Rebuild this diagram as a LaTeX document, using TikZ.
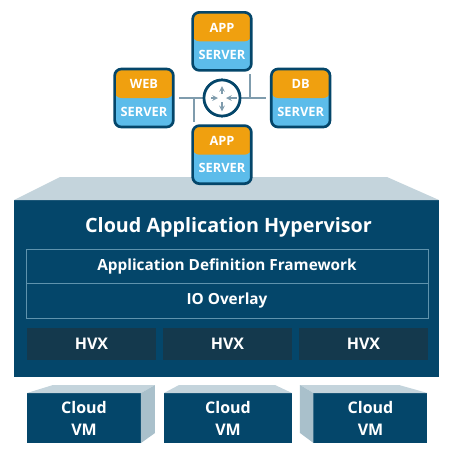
\documentclass[tikz,border=0pt]{standalone}
\usepackage{fontspec}
\setmainfont{Open Sans}
\usepackage{xcolor}
\usetikzlibrary{arrows, positioning, calc}
\definecolor{navy}{HTML}{04466A}
\definecolor{hvxdark}{HTML}{14394D}
\definecolor{lidtop}{HTML}{C4D4DC}
\definecolor{lidside}{HTML}{A9C0CB}
\definecolor{framewire}{HTML}{5F93AD}
\definecolor{srvorange}{HTML}{F0A00F}
\definecolor{srvblue}{HTML}{5CBCEA}
\definecolor{linkgray}{HTML}{7F9CAD}
\tikzstyle{server} = [rectangle, rounded corners=5pt, minimum width=44pt, minimum height=43.5pt, inner sep=0pt, align=center, text=white, font=\bfseries\fontsize{9.6}{20.5}\selectfont, execute at begin node={\vspace*{3pt}}, draw=navy, line width=2pt, fill=srvblue, path picture={\fill[srvorange] (path picture bounding box.north west) rectangle (path picture bounding box.east);}]
\tikzstyle{router} = [circle, minimum size=27pt, inner sep=0pt, draw=navy, line width=2pt, fill=white]
\tikzstyle{link} = [linkgray, line width=1.2pt]
\tikzstyle{flow} = [linkgray, line width=0.9pt, ->, >=stealth]
\tikzstyle{hypbox} = [rectangle, minimum width=318.75pt, minimum height=132.75pt, inner sep=0pt, outer sep=0pt, fill=navy]
\tikzstyle{layer} = [rectangle, minimum width=301.5pt, minimum height=25.75pt, inner sep=0pt, outer sep=0pt, draw=framewire, line width=0.7pt, text=white, font=\bfseries\fontsize{11.5}{13}\selectfont]
\tikzstyle{hvx} = [rectangle, minimum width=96.75pt, minimum height=24pt, inner sep=0pt, outer sep=0pt, fill=hvxdark, text=white, font=\bfseries\fontsize{12}{14}\selectfont]
\tikzstyle{vm} = [rectangle, minimum width=85.5pt, minimum height=37.5pt, inner sep=0pt, outer sep=0pt, fill=navy, align=center, text=white, font=\bfseries\fontsize{12}{16.5}\selectfont, execute at begin node={\vspace*{3pt}}]
\begin{document}
\begin{tikzpicture}[x=0.75pt, y=-0.75pt]
  \useasboundingbox (0,0) rectangle (450,455);

  % hypervisor block with its lid
  \node (hyp) [hypbox] at (226.5,288.5) {};
  \fill[lidtop] (hyp.north west) -- (60,177) -- (387,177) -- (hyp.north east) -- cycle;
  \node (title) [text=white, font=\bfseries\fontsize{14.8}{16}\selectfont, inner sep=0pt] at (228.5,227.5) {Cloud Application Hypervisor};
  \node (framework) [layer] at (227,266.5) {Application Definition Framework};
  \node (overlay) [layer, below=0pt of framework] {IO Overlay};
  \node (hvxa) [hvx] at (91.5,344) {HVX};
  \node (hvxb) [hvx, right=5.25pt of hvxa] {HVX};
  \node (hvxc) [hvx, right=5.25pt of hvxb] {HVX};

  % cloud vms
  \node (vma) [vm] at (84,418) {Cloud\\VM};
  \node (vmb) [vm, minimum width=96pt] at (228,418) {Cloud\\VM};
  \node (vmc) [vm] at (370.5,418) {Cloud\\VM};
  \fill[lidtop] (vma.north west) -- (53,385) -- (155,385) -- (vma.north east) -- cycle;
  \fill[lidside] (vma.north east) -- (155,385) -- (155,433) -- (vma.south east) -- cycle;
  \fill[lidtop] (vmb.north west) -- (179,385) -- (275,385) -- (vmb.north east) -- cycle;
  \fill[lidtop] (vmc.north west) -- (300,385) -- (399,385) -- (vmc.north east) -- cycle;
  \fill[lidside] (vmc.north west) -- (300,385) -- (300,433) -- (vmc.south west) -- cycle;

  % servers around the router
  \node (router) [router] at (222,98) {};
  \node (apptop) [server, above=5.25pt of router] {APP\\SERVER};
  \node (appbot) [server, below=5.25pt of router] {APP\\SERVER};
  \node (web) [server, left=21pt of router] {WEB\\SERVER};
  \node (db) [server, right=21.5pt of router] {DB\\SERVER};

  \coordinate (tapweb) at (194,98);
  \coordinate (tapdb) at (250,98);
  \draw[link, shorten >=3.5pt] (router) -- (web);
  \draw[link, shorten >=3pt] (router) -- (db);
  \draw[link, shorten >=2pt] (tapweb) -- (tapweb |- appbot.north);
  \draw[link, shorten >=2pt] (tapdb) -- (tapdb |- apptop.south);
  \node (hub) [router] at (router) {};

  \draw[flow] ($(hub)+(90:3pt)$) -- ($(hub)+(90:9pt)$);
  \draw[flow] ($(hub)+(270:3pt)$) -- ($(hub)+(270:10pt)$);
  \draw[flow] ($(hub)+(180:8pt)$) -- ($(hub)+(180:3pt)$);
  \draw[flow] ($(hub)+(0:11pt)$) -- ($(hub)+(0:3pt)$);
\end{tikzpicture}
\end{document}
